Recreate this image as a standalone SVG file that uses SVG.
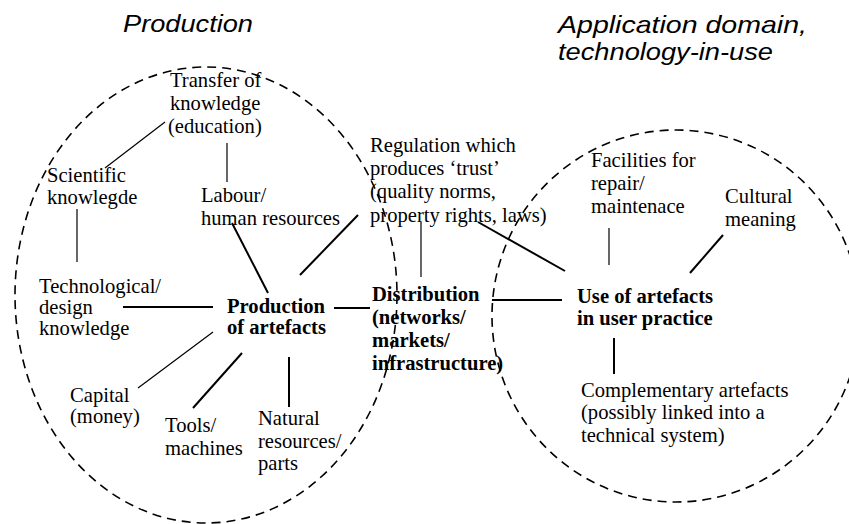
<svg xmlns="http://www.w3.org/2000/svg" width="849" height="524" viewBox="0 0 849 524">
<style>
.t{font-family:"Liberation Serif","Times New Roman",serif;font-size:20.6px;fill:#000}
.b{font-weight:bold}
.h{font-family:"Liberation Sans",Arial,sans-serif;font-size:24px;font-style:italic;fill:#000}
.c{stroke:#000;fill:none}
.thin{stroke-width:1.2}
.thick{stroke-width:2}
.dash{stroke:#000;fill:none;stroke-width:1.6;stroke-dasharray:9 6}
</style>
<rect width="849" height="524" fill="#fff"/>
<g id="regions">
<ellipse class="dash" cx="206" cy="295" rx="191" ry="228"/>
<ellipse class="dash" cx="676" cy="316" rx="184" ry="186"/>
</g>
<g id="titles">
<text class="h" x="123" y="32" textLength="130" lengthAdjust="spacingAndGlyphs">Production</text>
<text class="h" x="558" y="33" textLength="249" lengthAdjust="spacingAndGlyphs">Application domain,</text>
<text class="h" x="558" y="60" textLength="215" lengthAdjust="spacingAndGlyphs">technology-in-use</text>
</g>
<g id="connectors">
<line class="c thin" x1="165" y1="122" x2="105" y2="168"/>
<line class="c thin" x1="227" y1="143" x2="227" y2="182"/>
<line class="c thin" x1="77" y1="209" x2="77" y2="262"/>
<line class="c thick" x1="232" y1="223" x2="268" y2="293"/>
<line class="c thick" x1="358" y1="215" x2="300" y2="275"/>
<line class="c thick" x1="123" y1="307" x2="213" y2="307"/>
<line class="c thick" x1="334" y1="308" x2="370" y2="308"/>
<line class="c thin" x1="213" y1="332" x2="138" y2="388"/>
<line class="c thick" x1="242" y1="353" x2="193" y2="408"/>
<line class="c thick" x1="289" y1="357" x2="289" y2="407"/>
<line class="c thin" x1="421" y1="222" x2="421" y2="277"/>
<line class="c thick" x1="478" y1="222" x2="565" y2="271"/>
<line class="c thick" x1="492" y1="300" x2="562" y2="300"/>
<line class="c thin" x1="609" y1="228" x2="609" y2="265"/>
<line class="c thick" x1="723" y1="235" x2="690" y2="273"/>
<line class="c thick" x1="614" y1="338" x2="614" y2="374"/>
</g>
<g id="transfer"><text class="t" x="170" y="87">Transfer of</text><text class="t" x="170" y="110">knowledge</text><text class="t" x="168" y="133">(education)</text></g>
<g id="scientific"><text class="t" x="47" y="182">Scientific</text><text class="t" x="47" y="204">knowlegde</text></g>
<g id="labour"><text class="t" x="201" y="202">Labour/</text><text class="t" x="201" y="225">human resources</text></g>
<g id="technological"><text class="t" x="39" y="293">Technological/</text><text class="t" x="39" y="314">design</text><text class="t" x="39" y="335">knowledge</text></g>
<g id="production"><text class="t b" x="227" y="313">Production</text><text class="t b" x="227" y="334">of artefacts</text></g>
<g id="capital"><text class="t" x="70" y="402">Capital</text><text class="t" x="70" y="423">(money)</text></g>
<g id="tools"><text class="t" x="165" y="432">Tools/</text><text class="t" x="165" y="455">machines</text></g>
<g id="natural"><text class="t" x="258" y="425">Natural</text><text class="t" x="258" y="448">resources/</text><text class="t" x="258" y="470">parts</text></g>
<g id="regulation"><text class="t" x="370" y="152">Regulation which</text><text class="t" x="370" y="175">produces ‘trust’</text><text class="t" x="370" y="198">(quality norms,</text><text class="t" x="370" y="222">property rights, laws)</text></g>
<g id="distribution"><text class="t b" x="372" y="301">Distribution</text><text class="t b" x="372" y="324">(networks/</text><text class="t b" x="372" y="347">markets/</text><text class="t b" x="372" y="370">infrastructure)</text></g>
<g id="use"><text class="t b" x="577" y="303">Use of artefacts</text><text class="t b" x="577" y="325">in user practice</text></g>
<g id="complementary"><text class="t" x="581" y="397">Complementary artefacts</text><text class="t" x="581" y="419">(possibly linked into a</text><text class="t" x="581" y="442">technical system)</text></g>
<g id="facilities"><text class="t" x="591" y="167">Facilities for</text><text class="t" x="591" y="190">repair/</text><text class="t" x="591" y="213">maintenace</text></g>
<g id="cultural"><text class="t" x="725" y="203">Cultural</text><text class="t" x="725" y="226">meaning</text></g>
</svg>
